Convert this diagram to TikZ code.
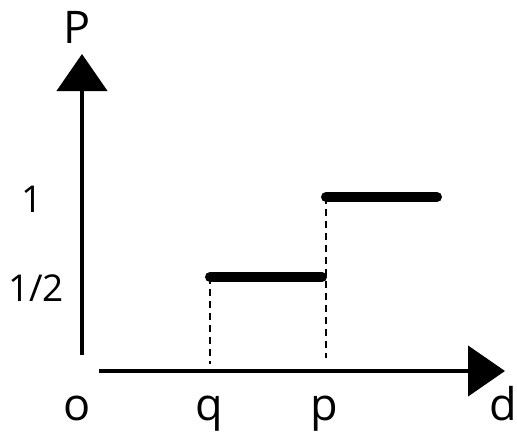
\documentclass[tikz,border=0pt]{standalone}
\usepackage{fontspec}
\setmainfont{Open Sans}
\usetikzlibrary{positioning}
\usetikzlibrary{calc}
\usetikzlibrary{arrows.meta}

\tikzset{
    axis/.style={line width=4.5pt, -{Triangle[length=37pt, width=50pt]}},
    level/.style={line width=10pt, line cap=round},
    guide/.style={line width=2.5pt, dash pattern=on 7pt off 5pt},
    lbl/.style={inner sep=0pt, anchor=base, font=\fontsize{45}{50}\selectfont},
    tick/.style={inner sep=0pt, anchor=base, font=\fontsize{37}{42}\selectfont}
}

\begin{document}
\begin{tikzpicture}[x=1pt, y=-1pt]

    \useasboundingbox (0, 0) rectangle (517, 434);

    % Axes
    \coordinate (origin) at (82, 355);
    \coordinate (ytop) at (82, 54);
    \coordinate (xstart) at (99, 371);
    \coordinate (xend) at (505, 371);
    \draw[axis] (origin) -- (ytop);
    \draw[axis] (xstart) -- (xend);

    % Axis labels
    \node[lbl] (plabel) at (77, 43) {P};
    \node[lbl] (dlabel) at (503, 420) {d};
    \node[lbl] (olabel) at (77, 420) {o};
    \node[lbl] (qlabel) at (209, 420) {q};
    \node[lbl] (ppos) at (324, 420) {p};
    \node[tick] (one) at (32, 212) {1};
    \node[tick] (half) at (36, 301) {1/2};

    % Steps
    \coordinate (q1) at (210, 277);
    \coordinate (q2) at (322, 277);
    \coordinate (p1) at (326, 197);
    \coordinate (p2) at (437, 197);
    \draw[level] (q1) -- (q2);
    \draw[level] (p1) -- (p2);

    % Guides down to the d axis
    \draw[guide] (q1) -- (q1 |- 0, 364);
    \draw[guide] (p1) -- (p1 |- 0, 358);

\end{tikzpicture}
\end{document}
